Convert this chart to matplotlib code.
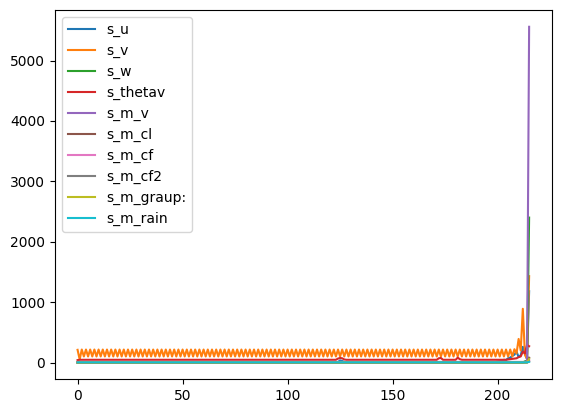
import matplotlib
matplotlib.use("Agg")
import matplotlib.pyplot as plt

# ---- values (index 0..215) ----
labels = ["s_u", "s_v", "s_w", "s_thetav", "s_m_v", "s_m_cl",
          "s_m_cf", "s_m_cf2", "s_m_graup:", "s_m_rain"]

s_u = [
    8, 8, 8, 8, 8, 8, 8, 8, 8, 8, 8, 8, 8, 8, 8, 8, 8, 8, 8, 8, 8, 8, 8, 8,
    8, 8, 8, 8, 8, 8, 8, 8, 8, 8, 8, 8, 8, 8, 8, 8, 8, 8, 8, 8, 8, 8, 8, 8,
    8, 8, 8, 8, 8, 8, 8, 8, 8, 8, 8, 8, 8, 8, 8, 8, 8, 8, 8, 8, 8, 8, 8, 8,
    8, 8, 8, 8, 8, 8, 8, 8, 8, 8, 8, 8, 8, 8, 8, 8, 8, 8, 8, 8, 8, 8, 8, 8,
    8, 8, 8, 8, 8, 8, 8, 8, 8, 8, 8, 8, 8, 8, 8, 8, 8, 8, 8, 8, 8, 8, 8, 8,
    8, 8, 8, 8, 8, 35, 25, 8, 8, 8, 8, 8, 8, 8, 8, 8, 8, 8, 8, 8, 8, 8, 8, 8,
    8, 8, 8, 8, 8, 8, 8, 8, 8, 8, 8, 8, 8, 8, 8, 8, 8, 8, 8, 8, 8, 8, 8, 8,
    8, 8, 8, 8, 8, 8, 8, 8, 8, 8, 8, 8, 8, 8, 8, 8, 8, 8, 8, 8, 8, 8, 8, 8,
    8, 8, 8, 8, 8, 8, 8, 8, 15, 20, 30, 45, 40, 70, 80, 110, 130, 180, 90, 120, 260, 140, 60, 1180,
]
s_v = [
    210, 50, 215, 100, 215, 100, 215, 100, 215, 100, 215, 100, 215, 100, 215, 100, 215, 100, 215, 100, 215, 100, 215, 100,
    215, 100, 215, 100, 215, 100, 215, 100, 215, 100, 215, 100, 215, 100, 215, 100, 215, 100, 215, 100, 215, 100, 215, 100,
    215, 100, 215, 100, 215, 100, 215, 100, 215, 100, 215, 100, 215, 100, 215, 100, 215, 100, 215, 100, 215, 100, 215, 100,
    215, 100, 215, 100, 215, 100, 215, 100, 215, 100, 215, 100, 215, 100, 215, 100, 215, 100, 215, 100, 215, 100, 215, 100,
    215, 100, 215, 100, 215, 100, 215, 100, 215, 100, 215, 100, 215, 100, 215, 100, 215, 100, 215, 100, 215, 100, 215, 100,
    215, 100, 215, 100, 215, 100, 215, 100, 215, 100, 215, 100, 215, 100, 215, 100, 215, 100, 215, 100, 215, 100, 215, 100,
    215, 100, 215, 100, 215, 100, 215, 100, 215, 100, 215, 100, 215, 100, 215, 100, 215, 100, 215, 100, 215, 100, 215, 100,
    215, 100, 215, 100, 215, 100, 215, 100, 215, 100, 215, 100, 215, 100, 215, 100, 215, 100, 215, 100, 215, 100, 215, 100,
    215, 100, 215, 100, 215, 100, 215, 100, 215, 100, 215, 100, 215, 100, 215, 100, 220, 150, 390, 200, 890, 130, 60, 1430,
]
s_w = [
    0, 0, 0, 0, 0, 0, 0, 0, 0, 0, 0, 0, 0, 0, 0, 0, 0, 0, 0, 0, 0, 0, 0, 0,
    0, 0, 0, 0, 0, 0, 0, 0, 0, 0, 0, 0, 0, 0, 0, 0, 0, 0, 0, 0, 0, 0, 0, 0,
    0, 0, 0, 0, 0, 0, 0, 0, 0, 0, 0, 0, 0, 0, 0, 0, 0, 0, 0, 0, 0, 0, 0, 0,
    0, 0, 0, 0, 0, 0, 0, 0, 0, 0, 0, 0, 0, 0, 0, 0, 0, 0, 0, 0, 0, 0, 0, 0,
    0, 0, 0, 0, 0, 0, 0, 0, 0, 0, 0, 0, 0, 0, 0, 0, 0, 0, 0, 0, 0, 0, 0, 0,
    0, 0, 0, 0, 0, 0, 0, 0, 0, 0, 0, 0, 0, 0, 0, 0, 0, 0, 0, 0, 0, 0, 0, 0,
    0, 0, 0, 0, 0, 0, 0, 0, 0, 0, 0, 0, 0, 0, 0, 0, 0, 0, 0, 0, 0, 0, 0, 0,
    0, 0, 0, 0, 0, 0, 0, 0, 0, 0, 0, 0, 0, 0, 0, 0, 0, 0, 0, 0, 0, 0, 0, 0,
    0, 0, 0, 0, 0, 0, 0, 0, 0, 0, 0, 0, 0, 0, 0, 0, 0, 0, 0, 0, 0, 20, 30, 2400,
]
s_thetav = [
    40, 45, 45, 45, 45, 45, 45, 45, 45, 45, 45, 45, 45, 45, 45, 45, 45, 45, 45, 45, 45, 45, 45, 45,
    45, 45, 45, 45, 45, 45, 45, 45, 45, 45, 45, 45, 45, 45, 45, 45, 45, 45, 45, 45, 45, 45, 45, 45,
    45, 45, 45, 45, 45, 45, 45, 45, 45, 45, 45, 45, 45, 45, 45, 45, 45, 45, 45, 45, 45, 45, 45, 45,
    45, 45, 45, 45, 45, 45, 45, 45, 45, 45, 45, 45, 45, 45, 45, 45, 45, 45, 45, 45, 45, 45, 45, 45,
    45, 45, 45, 45, 45, 45, 45, 45, 45, 45, 45, 45, 45, 45, 45, 45, 45, 45, 45, 45, 45, 45, 45, 45,
    45, 45, 45, 45, 65, 75, 70, 50, 45, 45, 45, 45, 45, 45, 45, 45, 45, 45, 45, 45, 45, 45, 45, 45,
    45, 45, 45, 45, 45, 45, 45, 45, 45, 45, 45, 45, 45, 45, 45, 45, 45, 45, 45, 45, 45, 45, 45, 45,
    45, 45, 45, 45, 70, 75, 45, 45, 45, 45, 45, 45, 45, 80, 55, 45, 45, 45, 45, 45, 45, 45, 45, 45,
    45, 45, 45, 45, 45, 45, 45, 45, 45, 45, 45, 45, 45, 50, 55, 60, 65, 70, 90, 100, 180, 150, 290, 270,
]
s_m_v = [
    0, 0, 0, 0, 0, 0, 0, 0, 0, 0, 0, 0, 0, 0, 0, 0, 0, 0, 0, 0, 0, 0, 0, 0,
    0, 0, 0, 0, 0, 0, 0, 0, 0, 0, 0, 0, 0, 0, 0, 0, 0, 0, 0, 0, 0, 0, 0, 0,
    0, 0, 0, 0, 0, 0, 0, 0, 0, 0, 0, 0, 0, 0, 0, 0, 0, 0, 0, 0, 0, 0, 0, 0,
    0, 0, 0, 0, 0, 0, 0, 0, 0, 0, 0, 0, 0, 0, 0, 0, 0, 0, 0, 0, 0, 0, 0, 0,
    0, 0, 0, 0, 0, 0, 0, 0, 0, 0, 0, 0, 0, 0, 0, 0, 0, 0, 0, 0, 0, 0, 0, 0,
    0, 0, 0, 0, 0, 0, 0, 0, 0, 0, 0, 0, 0, 0, 0, 0, 0, 0, 0, 0, 0, 0, 0, 0,
    0, 0, 0, 0, 0, 0, 0, 0, 0, 0, 0, 0, 0, 0, 0, 0, 0, 0, 0, 0, 0, 0, 0, 0,
    0, 0, 0, 0, 0, 0, 0, 0, 0, 0, 0, 0, 0, 0, 0, 0, 0, 0, 0, 0, 0, 0, 0, 0,
    0, 0, 0, 0, 0, 0, 0, 0, 0, 0, 0, 0, 0, 0, 0, 0, 0, 0, 0, 0, 0, 5, 20, 5560,
]
s_m_cl = [
    0, 0, 0, 0, 0, 0, 0, 0, 0, 0, 0, 0, 0, 0, 0, 0, 0, 0, 0, 0, 0, 0, 0, 0,
    0, 0, 0, 0, 0, 0, 0, 0, 0, 0, 0, 0, 0, 0, 0, 0, 0, 0, 0, 0, 0, 0, 0, 0,
    0, 0, 0, 0, 0, 0, 0, 0, 0, 0, 0, 0, 0, 0, 0, 0, 0, 0, 0, 0, 0, 0, 0, 0,
    0, 0, 0, 0, 0, 0, 0, 0, 0, 0, 0, 0, 0, 0, 0, 0, 0, 0, 0, 0, 0, 0, 0, 0,
    0, 0, 0, 0, 0, 0, 0, 0, 0, 0, 0, 0, 0, 0, 0, 0, 0, 0, 0, 0, 0, 0, 0, 0,
    0, 0, 0, 0, 0, 0, 0, 0, 0, 0, 0, 0, 0, 0, 0, 0, 0, 0, 0, 0, 0, 0, 0, 0,
    0, 0, 0, 0, 0, 0, 0, 0, 0, 0, 0, 0, 0, 0, 0, 0, 0, 0, 0, 0, 0, 0, 0, 0,
    0, 0, 0, 0, 0, 0, 0, 0, 0, 0, 0, 0, 0, 0, 0, 0, 0, 0, 0, 0, 0, 0, 0, 0,
    0, 0, 0, 0, 0, 0, 0, 0, 0, 0, 0, 0, 0, 0, 0, 0, 0, 0, 0, 0, 0, 0, 0, 80,
]
s_m_cf = [
    10, 10, 10, 10, 10, 10, 10, 10, 10, 10, 10, 10, 10, 10, 10, 10, 10, 10, 10, 10, 10, 10, 10, 10,
    10, 10, 10, 10, 10, 10, 10, 10, 10, 10, 10, 10, 10, 10, 10, 10, 10, 10, 10, 10, 10, 10, 10, 10,
    10, 10, 10, 10, 10, 10, 10, 10, 10, 10, 10, 10, 10, 10, 10, 10, 10, 10, 10, 10, 10, 10, 10, 10,
    10, 10, 10, 10, 10, 10, 10, 10, 10, 10, 10, 10, 10, 10, 10, 10, 10, 10, 10, 10, 10, 10, 10, 10,
    10, 10, 10, 10, 10, 10, 10, 10, 10, 10, 10, 10, 10, 10, 10, 10, 10, 10, 10, 10, 10, 10, 10, 10,
    10, 10, 10, 10, 10, 10, 10, 10, 10, 10, 10, 10, 10, 10, 10, 10, 10, 10, 10, 10, 10, 10, 10, 10,
    10, 10, 10, 10, 10, 10, 10, 10, 10, 10, 10, 10, 10, 10, 10, 10, 10, 10, 10, 10, 10, 10, 10, 10,
    10, 10, 10, 10, 10, 10, 10, 10, 10, 10, 10, 10, 10, 10, 10, 10, 10, 10, 10, 10, 10, 10, 10, 10,
    10, 10, 10, 10, 10, 10, 10, 10, 10, 10, 10, 10, 10, 10, 10, 10, 10, 10, 10, 10, 10, 10, 10, 40,
]
s_m_cf2 = [
    0, 0, 0, 0, 0, 0, 0, 0, 0, 0, 0, 0, 0, 0, 0, 0, 0, 0, 0, 0, 0, 0, 0, 0,
    0, 0, 0, 0, 0, 0, 0, 0, 0, 0, 0, 0, 0, 0, 0, 0, 0, 0, 0, 0, 0, 0, 0, 0,
    0, 0, 0, 0, 0, 0, 0, 0, 0, 0, 0, 0, 0, 0, 0, 0, 0, 0, 0, 0, 0, 0, 0, 0,
    0, 0, 0, 0, 0, 0, 0, 0, 0, 0, 0, 0, 0, 0, 0, 0, 0, 0, 0, 0, 0, 0, 0, 0,
    0, 0, 0, 0, 0, 0, 0, 0, 0, 0, 0, 0, 0, 0, 0, 0, 0, 0, 0, 0, 0, 0, 0, 0,
    0, 0, 0, 0, 0, 0, 0, 0, 0, 0, 0, 0, 0, 0, 0, 0, 0, 0, 0, 0, 0, 0, 0, 0,
    0, 0, 0, 0, 0, 0, 0, 0, 0, 0, 0, 0, 0, 0, 0, 0, 0, 0, 0, 0, 0, 0, 0, 0,
    0, 0, 0, 0, 0, 0, 0, 0, 0, 0, 0, 0, 0, 0, 0, 0, 0, 0, 0, 0, 0, 0, 0, 0,
    0, 0, 0, 0, 0, 0, 0, 0, 0, 0, 0, 0, 0, 0, 0, 0, 0, 0, 0, 0, 0, 0, 0, 20,
]
s_m_graup = [
    0, 0, 0, 0, 0, 0, 0, 0, 0, 0, 0, 0, 0, 0, 0, 0, 0, 0, 0, 0, 0, 0, 0, 0,
    0, 0, 0, 0, 0, 0, 0, 0, 0, 0, 0, 0, 0, 0, 0, 0, 0, 0, 0, 0, 0, 0, 0, 0,
    0, 0, 0, 0, 0, 0, 0, 0, 0, 0, 0, 0, 0, 0, 0, 0, 0, 0, 0, 0, 0, 0, 0, 0,
    0, 0, 0, 0, 0, 0, 0, 0, 0, 0, 0, 0, 0, 0, 0, 0, 0, 0, 0, 0, 0, 0, 0, 0,
    0, 0, 0, 0, 0, 0, 0, 0, 0, 0, 0, 0, 0, 0, 0, 0, 0, 0, 0, 0, 0, 0, 0, 0,
    0, 0, 0, 0, 0, 0, 0, 0, 0, 0, 0, 0, 0, 0, 0, 0, 0, 0, 0, 0, 0, 0, 0, 0,
    0, 0, 0, 0, 0, 0, 0, 0, 0, 0, 0, 0, 0, 0, 0, 0, 0, 0, 0, 0, 0, 0, 0, 0,
    0, 0, 0, 0, 0, 0, 0, 0, 0, 0, 0, 0, 0, 0, 0, 0, 0, 0, 0, 0, 0, 0, 0, 0,
    0, 0, 0, 0, 0, 0, 0, 0, 0, 0, 0, 0, 0, 0, 0, 0, 0, 0, 0, 0, 0, 0, 0, 60,
]
s_m_rain = [
    3, 3, 3, 3, 3, 3, 3, 3, 3, 3, 3, 3, 3, 3, 3, 3, 3, 3, 3, 3, 3, 3, 3, 3,
    3, 3, 3, 3, 3, 3, 3, 3, 3, 3, 3, 3, 3, 3, 3, 3, 3, 3, 3, 3, 3, 3, 3, 3,
    3, 3, 3, 3, 3, 3, 3, 3, 3, 3, 3, 3, 3, 3, 3, 3, 3, 3, 3, 3, 3, 3, 3, 3,
    3, 3, 3, 3, 3, 3, 3, 3, 3, 3, 3, 3, 3, 3, 3, 3, 3, 3, 3, 3, 3, 3, 3, 3,
    3, 3, 3, 3, 3, 3, 3, 3, 3, 3, 3, 3, 3, 3, 3, 3, 3, 3, 3, 3, 3, 3, 3, 3,
    3, 3, 3, 3, 3, 3, 3, 3, 3, 3, 3, 3, 3, 3, 3, 3, 3, 3, 3, 3, 3, 3, 3, 3,
    3, 3, 3, 3, 3, 3, 3, 3, 3, 3, 3, 3, 3, 3, 3, 3, 3, 3, 3, 3, 3, 3, 3, 3,
    3, 3, 3, 3, 3, 3, 3, 3, 3, 3, 3, 3, 3, 3, 3, 3, 3, 3, 3, 3, 3, 3, 3, 3,
    3, 3, 3, 3, 3, 3, 3, 3, 3, 3, 3, 3, 3, 3, 3, 3, 3, 3, 3, 3, 3, 3, 3, 10,
]

series = [s_u, s_v, s_w, s_thetav, s_m_v, s_m_cl,
          s_m_cf, s_m_cf2, s_m_graup, s_m_rain]

fig = plt.figure(figsize=(5.61, 4.13), dpi=100)
ax = fig.add_axes([55 / 561, 33.7 / 413, 496.7 / 561, 369.3 / 413])
for vals, lab in zip(series, labels):
    ax.plot(vals, label=lab)
ax.legend(loc="upper left")
fig.savefig("out.png", dpi=100)
